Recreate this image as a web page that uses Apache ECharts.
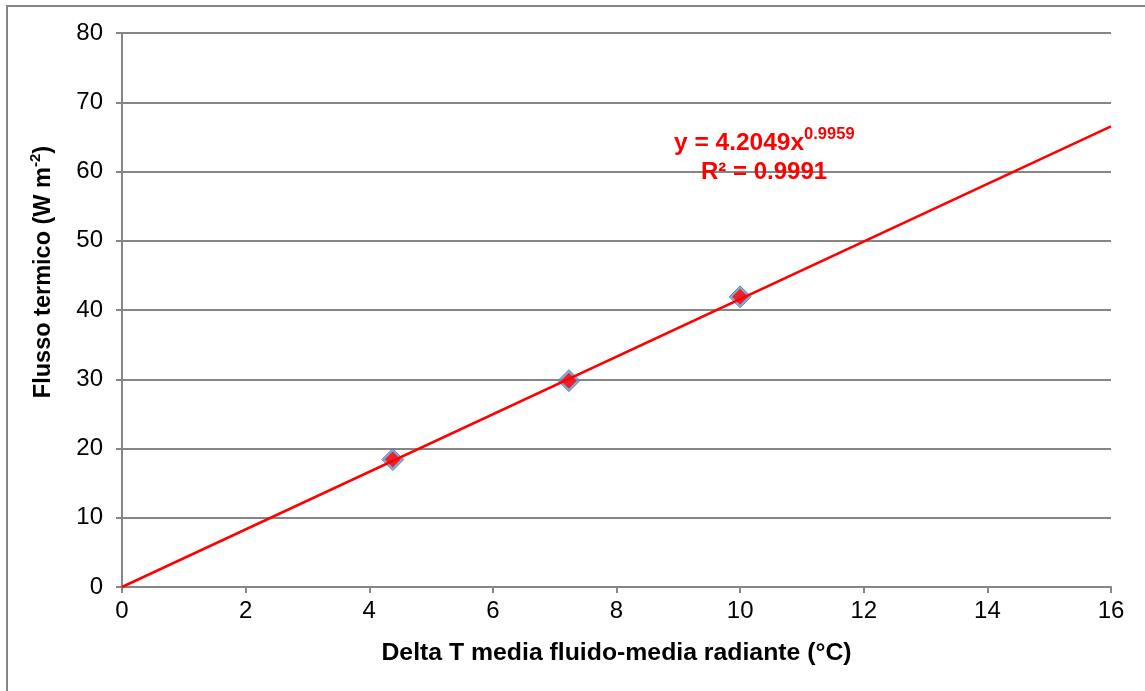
<!DOCTYPE html>
<html>
<head>
<meta charset="utf-8">
<script src="https://cdn.jsdelivr.net/npm/echarts@6/dist/echarts.min.js"></script>
<style>html,body{margin:0;padding:0;background:#fff}#c{width:1145px;height:691px}</style>
</head>
<body>
<div id="c"></div>
<script>
// Data
const xValues = [4.38, 7.23, 10.0];
const yValues = [18.4, 29.8, 41.9];
// Power trendline y = 4.2049x^0.9959, endpoints
const trendX = [0, 16];
const trendY = [0, 66.5];
const xTicks = [0, 2, 4, 6, 8, 10, 12, 14, 16];
const yTicks = [0, 10, 20, 30, 40, 50, 60, 70, 80];
const eqText = 'y = 4.2049x';
const eqExp = '0.9959';
const r2Text = 'R² = 0.9991';
const xTitle = 'Delta T media fluido-media radiante (°C)';
const yTitle = 'Flusso termico (W m';
const yTitleExp = '-2';

const chart = echarts.init(document.getElementById('c'));
const font = '"Liberation Sans", Arial, sans-serif';
const points = xValues.map((x, i) => [x, yValues[i]]);
const trend = trendX.map((x, i) => [x, trendY[i]]);

chart.setOption({
  animation: false,
  backgroundColor: '#fff',
  grid: { left: 122, right: 34, top: 33, bottom: 104 },
  xAxis: {
    type: 'value', min: xTicks[0], max: xTicks[xTicks.length - 1], interval: 2,
    axisLine: { show: true, lineStyle: { color: '#868686', width: 2 } },
    axisTick: { show: true, length: 6, lineStyle: { color: '#868686', width: 2 } },
    splitLine: { show: false },
    axisLabel: { color: '#000', fontSize: 24, fontFamily: font, margin: 12 },
    name: xTitle, nameLocation: 'middle', nameGap: 54,
    nameTextStyle: { color: '#000', fontSize: 24.8, fontWeight: 'bold', fontFamily: font }
  },
  yAxis: {
    type: 'value', min: yTicks[0], max: yTicks[yTicks.length - 1], interval: 10,
    axisLine: { show: true, lineStyle: { color: '#868686', width: 2 } },
    axisTick: { show: true, length: 6, lineStyle: { color: '#868686', width: 2 } },
    splitLine: { show: true, lineStyle: { color: '#868686', width: 2 } },
    axisLabel: { color: '#000', fontSize: 24, fontFamily: font, margin: 19 }
  },
  series: [
    {
      type: 'scatter', data: points, symbol: 'diamond', symbolSize: 22, z: 2,
      itemStyle: { color: '#6d94c9', borderColor: '#4a76b4', borderWidth: 1 }
    },
    {
      type: 'line', data: trend, showSymbol: false, symbol: 'none', z: 3,
      lineStyle: { color: '#ff0000', width: 2.5 }
    },
    {
      type: 'scatter', data: points, symbol: 'diamond', symbolSize: 16, z: 4,
      itemStyle: { color: '#ff0000' }
    }
  ],
  graphic: [
    { type: 'rect', shape: { x: 7, y: 6, width: 1200, height: 750 }, style: { fill: 'none', stroke: '#868686', lineWidth: 2 }, silent: true, z: -10 },
    {
      type: 'text', x: 42, y: 272, rotation: Math.PI / 2, z: 100,
      style: {
        text: '{t|' + yTitle + '}{s|' + yTitleExp + '}{t|)}',
        align: 'center', verticalAlign: 'middle',
        rich: {
          t: { fontSize: 23.5, fontWeight: 'bold', fontFamily: font, fill: '#000', lineHeight: 28, verticalAlign: 'bottom' },
          s: { fontSize: 15, fontWeight: 'bold', fontFamily: font, fill: '#000', lineHeight: 28, verticalAlign: 'top' }
        }
      }
    },
    {
      type: 'text', left: 674, top: 126, z: 100,
      style: {
        text: '{a|' + eqText + '}{b|' + eqExp + '}',
        rich: {
          a: { fontSize: 24.5, fontWeight: 'bold', fontFamily: font, fill: '#ff0000', lineHeight: 30, verticalAlign: 'bottom' },
          b: { fontSize: 16.5, fontWeight: 'bold', fontFamily: font, fill: '#ff0000', lineHeight: 30, verticalAlign: 'top' }
        }
      }
    },
    {
      type: 'text', left: 701, top: 160, z: 100,
      style: { text: r2Text, fontSize: 24, fontWeight: 'bold', fontFamily: font, fill: '#ff0000' }
    }
  ]
});
</script>
</body>
</html>
